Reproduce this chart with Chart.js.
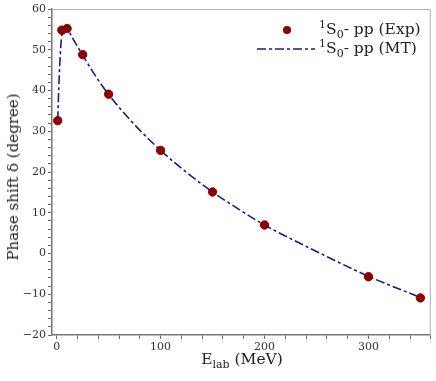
<!DOCTYPE html>
<html>
<head>
<meta charset="utf-8">
<script src="https://cdn.jsdelivr.net/npm/chart.js@4/dist/chart.umd.min.js"></script>
<style>
  html, body { margin: 0; padding: 0; background: #fff; }
  #wrap { position: relative; width: 436px; height: 381px; font-family: "DejaVu Serif", serif; color: #222; }
  canvas { position: absolute; left: 0; top: 0; }
  .legend { position: absolute; left: 249px; top: 20px; font-size: 15.5px; line-height: 19px; }
  .legend .row { display: flex; align-items: center; height: 19px; }
  .legend .sym { width: 70px; display: flex; justify-content: center; align-items: center; }
  .legend .dot { width: 8px; height: 8px; border-radius: 50%; background: #8b0000; margin-left: 6px; }
  .legend sup, .legend sub, .xtitle sub { font-size: 11px; line-height: 0; }
  .xtitle { position: absolute; left: 0; width: 484px; top: 350px; text-align: center; font-size: 15.5px; }
  .ytitle { position: absolute; left: 13px; top: 177px; transform: translate(-50%, -50%) rotate(-90deg); white-space: nowrap; font-size: 15px; }
</style>
</head>
<body>
<div id="wrap">
  <canvas id="c" width="436" height="381"></canvas>
  <div class="legend">
    <div class="row"><span class="sym"><span class="dot"></span></span><span><sup>1</sup>S<sub>0</sub>- pp (Exp)</span></div>
    <div class="row"><span class="sym"><svg width="62" height="6"><line x1="4" y1="3" x2="62" y2="3" stroke="#1a1a8c" stroke-width="1.6" stroke-dasharray="9 3 3 3"/></svg></span><span><sup>1</sup>S<sub>0</sub>- pp (MT)</span></div>
  </div>
  <div class="xtitle">E<sub>lab</sub> (MeV)</div>
  <div class="ytitle">Phase shift δ (degree)</div>
</div>
<script>
// measured points (Exp)
const expEnergy = [1, 5, 10, 25, 50, 100, 150, 200, 300, 350];
const expPhase = [32.6, 54.8, 55.2, 48.8, 39.1, 25.3, 15.1, 7.0, -5.7, -10.9];

// model curve (MT)
const mtEnergy = [1, 1.5, 2, 3, 4, 5, 6, 8, 10, 15, 20, 25, 35, 50, 75, 100, 125, 150, 175, 200, 250, 300, 350];
const mtPhase = [32.7, 36.5, 40.5, 46.5, 51, 53.8, 55, 55.6, 55.3, 53, 50.8, 48.7, 44.5, 39.0, 31.6, 25.3, 19.9, 15.1, 10.9, 7.0, 0.5, -5.6, -10.8];

const xMajor = [0, 100, 200, 300];
const yMajor = [-20, -10, 0, 10, 20, 30, 40, 50, 60];

const toXY = (xs, ys) => xs.map((x, i) => ({ x, y: ys[i] }));
const fmt = (v) => (v < 0 ? '\u2212' + Math.abs(v) : String(v));

// light frame on the top and right edges
const frame = {
  id: 'frame',
  afterDraw(chart) {
    const { ctx, chartArea: a } = chart;
    ctx.save();
    ctx.strokeStyle = '#b0b0b0';
    ctx.lineWidth = 1;
    ctx.beginPath();
    ctx.moveTo(a.left, a.top + 0.5);
    ctx.lineTo(a.right - 0.5, a.top + 0.5);
    ctx.lineTo(a.right - 0.5, a.bottom);
    ctx.stroke();
    ctx.restore();
  },
};

// ticks on every minor step inside the axis range (Chart.js drops 0 next to min)
function minorTicks(step) {
  return (scale) => {
    const ticks = [];
    for (let v = Math.ceil(scale.min / step) * step; v <= scale.max + 1e-9; v += step) {
      ticks.push({ value: Math.round(v) });
    }
    scale.ticks = ticks;
  };
}
const label = (majors) => (v) => {
  const r = Math.round(v);
  return majors.includes(r) ? fmt(r) : '';
};

new Chart(document.getElementById('c').getContext('2d'), {
  type: 'scatter',
  data: {
    datasets: [
      {
        label: 'MT',
        data: toXY(mtEnergy, mtPhase),
        showLine: true,
        borderColor: '#1a1a8c',
        borderWidth: 1.6,
        borderDash: [9, 3, 3, 3],
        cubicInterpolationMode: 'monotone',
        pointRadius: 0,
        fill: false,
        order: 2,
      },
      {
        label: 'Exp',
        data: toXY(expEnergy, expPhase),
        backgroundColor: '#8b0000',
        borderColor: '#8b0000',
        pointRadius: 4.2,
        order: 1,
      },
    ],
  },
  options: {
    responsive: false,
    animation: false,
    layout: { padding: { top: 9, right: 4, left: 0, bottom: 0 } },
    scales: {
      x: {
        type: 'linear',
        min: -4.5,
        max: 360,
        afterBuildTicks: minorTicks(20),
        afterFit: (s) => { s.height = 46; },
        ticks: {
          autoSkip: false,
          maxRotation: 0,
          padding: 2,
          color: '#333',
          font: { family: 'DejaVu Serif', size: 11 },
          callback: label(xMajor),
        },
        grid: { drawOnChartArea: false, tickLength: 4, tickColor: '#666' },
        border: { color: '#777', width: 1.5 },
      },
      y: {
        min: -20,
        max: 60,
        afterBuildTicks: minorTicks(2),
        afterFit: (s) => { s.width = 52; },
        ticks: {
          autoSkip: false,
          padding: 2,
          color: '#333',
          font: { family: 'DejaVu Serif', size: 11 },
          callback: label(yMajor),
        },
        grid: { drawOnChartArea: false, tickLength: 4, tickColor: '#666' },
        border: { color: '#777', width: 1.5 },
      },
    },
    plugins: {
      legend: { display: false },
      tooltip: { enabled: false },
    },
  },
  plugins: [frame],
});
</script>
</body>
</html>
